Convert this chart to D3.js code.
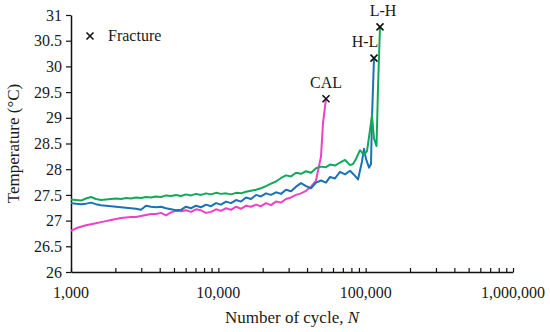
<!DOCTYPE html>
<html>
<head>
<meta charset="utf-8">
<script src="https://cdn.jsdelivr.net/npm/d3@7"></script>
<style>
  body { margin: 0; background: #fff; }
  text { font-family: "Liberation Serif", "Times New Roman", serif; fill: #1a1a1a; }
</style>
</head>
<body>
<svg id="chart" width="550" height="332"></svg>
<script>
const WIDTH = 550;
const HEIGHT = 332;
const MARGIN = { left: 71, right: 37, top: 15, bottom: 60 };

// shared cycle counts for the early part of every test
const cycles = [1000, 1081, 1169, 1264, 1367, 1478, 1598, 1728, 1868, 2020,
  2185, 2362, 2554, 2762, 2986, 3229, 3491, 3775, 4082, 4414,
  4772, 5160, 5580, 6033, 6524, 7054, 7627, 8247, 8918, 9642,
  10426, 11274, 12190, 13181, 14253, 15411, 16664, 18019, 19483, 21067,
  22779, 24631, 26633, 28798, 31139, 33670, 36407, 39366, 42566, 46026, 49767];

const calTemp = [26.80, 26.85, 26.88, 26.91, 26.93, 26.95, 26.97, 26.99, 27.01, 27.03,
  27.05, 27.06, 27.07, 27.07, 27.09, 27.11, 27.13, 27.13, 27.15, 27.10,
  27.16, 27.19, 27.18, 27.20, 27.17, 27.22, 27.20, 27.15, 27.17, 27.22,
  27.19, 27.24, 27.21, 27.27, 27.23, 27.29, 27.27, 27.31, 27.28, 27.34,
  27.30, 27.37, 27.35, 27.42, 27.45, 27.50, 27.53, 27.58, 27.66, 27.78, 28.25];
const calTailCycles = [51340, 53800];
const calTailTemp = [28.90, 29.37];

const hlTemp = [27.34, 27.33, 27.32, 27.33, 27.35, 27.32, 27.30, 27.29, 27.28, 27.27,
  27.26, 27.25, 27.24, 27.23, 27.21, 27.29, 27.27, 27.26, 27.27, 27.24,
  27.22, 27.20, 27.21, 27.27, 27.24, 27.29, 27.26, 27.31, 27.28, 27.34,
  27.31, 27.37, 27.34, 27.40, 27.37, 27.45, 27.42, 27.50, 27.47, 27.53,
  27.50, 27.55, 27.52, 27.60, 27.57, 27.66, 27.73, 27.67, 27.63, 27.74, 27.78];
const hlTailCycles = [53800, 57270, 61920, 66960, 72410, 78300, 84660, 88710, 94440, 97430,
  100500, 105400, 108700, 110400, 113900];
const hlTailTemp = [27.74, 27.85, 27.82, 27.95, 27.90, 27.97, 27.87, 27.80, 28.15, 28.40,
  28.20, 28.03, 28.10, 29.00, 30.16];

const lhTemp = [27.41, 27.40, 27.39, 27.43, 27.46, 27.42, 27.40, 27.41, 27.42, 27.43,
  27.42, 27.44, 27.43, 27.45, 27.44, 27.46, 27.45, 27.47, 27.46, 27.49,
  27.48, 27.50, 27.48, 27.51, 27.49, 27.52, 27.50, 27.53, 27.51, 27.54,
  27.52, 27.53, 27.51, 27.54, 27.53, 27.56, 27.58, 27.60, 27.63, 27.67,
  27.72, 27.76, 27.83, 27.88, 27.86, 27.93, 27.91, 27.96, 27.93, 28.02, 28.05];
const lhTailCycles = [53800, 57270, 61920, 66960, 72410, 78300, 82060, 85990, 91540, 97430,
  102100, 107000, 110400, 113900, 118500, 121300, 125100];
const lhTailTemp = [28.04, 28.09, 28.07, 28.13, 28.18, 28.08, 28.10, 28.20, 28.37, 28.28,
  28.35, 28.76, 29.05, 28.60, 28.45, 29.60, 30.77];

const seriesNames = ['CAL', 'H-L', 'L-H'];
const seriesColors = ['#f040c4', '#1b72b2', '#12a85c'];
const yTicks = [26, 26.5, 27, 27.5, 28, 28.5, 29, 29.5, 30, 30.5, 31];
const xMajor = [1000, 10000, 100000, 1000000];

function join (xs, ys, tx, ty) {
  let pts = xs.map((x, i) => ({ n: x, t: ys[i] }));
  return pts.concat(tx.map((x, i) => ({ n: x, t: ty[i] })));
}

const series = [
  join(cycles, calTemp, calTailCycles, calTailTemp),
  join(cycles, hlTemp, hlTailCycles, hlTailTemp),
  join(cycles, lhTemp, lhTailCycles, lhTailTemp)
];

let svg = d3.select('#chart');

let xScale = d3.scaleLog()
  .domain([1000, 1000000])
  .range([MARGIN.left, WIDTH - MARGIN.right]);

let yScale = d3.scaleLinear()
  .domain([26, 31])
  .range([HEIGHT - MARGIN.bottom, MARGIN.top]);

// minor + major ticks on the x axis point up into the plot
let xTicks = [];
for (let d = 1000; d < 1000000; d *= 10) {
  for (let m = 1; m < 10; m++) xTicks.push(d * m);
}
xTicks.push(1000000);

let xAxis = svg.append('g')
  .attr('transform', `translate(0,${yScale(26)})`)
  .call(d3.axisBottom(xScale).tickValues(xTicks).tickSizeInner(-4).tickSizeOuter(0).tickFormat(''));
xAxis.select('.domain').attr('stroke', '#111').attr('stroke-width', 1.5);
xAxis.selectAll('.tick line').attr('stroke', '#111').attr('stroke-width', 1.2);

svg.append('g')
  .selectAll('text')
  .data(xMajor)
  .join('text')
  .attr('x', d => xScale(d))
  .attr('y', yScale(26) + 26)
  .attr('text-anchor', 'middle')
  .style('font-size', '16px')
  .text(d => d3.format(',')(d));

let yAxis = svg.append('g')
  .attr('transform', `translate(${MARGIN.left},0)`)
  .call(d3.axisLeft(yScale).tickValues(yTicks).tickSizeInner(5).tickSizeOuter(0).tickPadding(4).tickFormat(d3.format('')));
yAxis.select('.domain').attr('stroke', '#111').attr('stroke-width', 1.5);
yAxis.selectAll('.tick line').attr('stroke', '#111').attr('stroke-width', 1.2);
yAxis.selectAll('.tick text')
  .style('font-size', '16px')
  .style('font-family', '"Liberation Serif", serif')
  .attr('fill', '#1a1a1a');

// axis titles
svg.append('text')
  .attr('transform', `translate(19,${(yScale(26) + yScale(31)) / 2}) rotate(-90)`)
  .attr('text-anchor', 'middle')
  .style('font-size', '17px')
  .text('Temperature (°C)');

let xt = svg.append('text')
  .attr('x', (xScale(1000) + xScale(1000000)) / 2)
  .attr('y', 323)
  .attr('text-anchor', 'middle')
  .style('font-size', '17px');
xt.append('tspan').text('Number of cycle, ');
xt.append('tspan').style('font-style', 'italic').text('N');

// lines
const lineGenerator = d3.line()
  .x(d => xScale(d.n))
  .y(d => yScale(d.t));

svg.append('g')
  .selectAll('path')
  .data(series)
  .join('path')
  .attr('d', lineGenerator)
  .attr('fill', 'none')
  .attr('stroke', (d, i) => seriesColors[i])
  .attr('stroke-width', 2)
  .attr('stroke-linejoin', 'round');

// fracture markers
function cross (g, cx, cy, s) {
  g.append('path')
    .attr('d', `M${cx - s},${cy - s}L${cx + s},${cy + s}M${cx + s},${cy - s}L${cx - s},${cy + s}`)
    .attr('stroke', '#111')
    .attr('stroke-width', 1.6)
    .attr('fill', 'none');
}

let ends = series.map(s => s[s.length - 1]);
let marks = svg.append('g');
ends.forEach((e, i) => {
  cross(marks, xScale(e.n), yScale(e.t), 3.5);
  marks.append('text')
    .attr('x', xScale(e.n) + (i === 1 ? -9 : (i === 2 ? 3 : 0)))
    .attr('y', yScale(e.t) - 11)
    .attr('text-anchor', 'middle')
    .style('font-size', '16px')
    .text(seriesNames[i]);
});

// legend
let legend = svg.append('g');
cross(legend, 90, 36, 3.5);
legend.append('text')
  .attr('x', 108)
  .attr('y', 41)
  .style('font-size', '16px')
  .text('Fracture');
</script>
</body>
</html>
